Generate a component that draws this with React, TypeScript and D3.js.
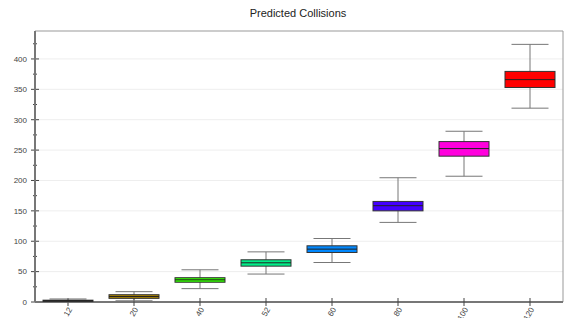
import React, { useRef, useEffect } from "react";
import * as d3 from "d3";

const categories = ["12", "20", "40", "52", "60", "80", "100", "120"];
const mins = [0, 2, 22, 46, 65, 131, 207, 319];
const q1s = [1, 6, 32.5, 59, 81.5, 150, 240, 353];
const medians = [2, 9, 36.5, 64.5, 87, 158.5, 252.5, 366];
const q3s = [3, 12, 40, 69.5, 92.5, 165.5, 264, 379.5];
const maxs = [5, 17, 53, 82.5, 104.5, 204.5, 281, 424];
const colors = ["#111111", "#b08800", "#33ff00", "#00ee88", "#0088ff", "#4400ff", "#ff00dd", "#ff0000"];
const yTicks = [0, 50, 100, 150, 200, 250, 300, 350, 400];

const W = 567;
const H = 318;
const margin = { top: 31, right: 4, bottom: 16, left: 35 };

export default function App() {
  const svgRef = useRef<SVGSVGElement>(null);

  useEffect(() => {
    const svg = d3.select(svgRef.current);
    svg.selectAll("*").remove();
    const x0 = margin.left;
    const x1 = W - margin.right;
    const y0 = H - margin.bottom;
    const y1 = margin.top;

    const x = d3.scaleBand().domain(categories).range([x0, x1]);
    const y = d3.scaleLinear().domain([0, 446]).range([y0, y1]);

    // grid
    svg
      .append("g")
      .selectAll("line")
      .data(yTicks.slice(1))
      .join("line")
      .attr("x1", x0)
      .attr("x2", x1)
      .attr("y1", (d) => y(d))
      .attr("y2", (d) => y(d))
      .attr("stroke", "#eeeeee");

    // frame
    svg
      .append("path")
      .attr("d", `M${x0},${y1}H${x1}V${y0}`)
      .attr("fill", "none")
      .attr("stroke", "#999999");

    // y axis
    const yAxis = svg.append("g").attr("transform", `translate(${x0},0)`);
    yAxis
      .selectAll("line.minor")
      .data(d3.range(25, 446, 50))
      .join("line")
      .attr("class", "minor")
      .attr("x1", -2)
      .attr("x2", 2)
      .attr("y1", (d) => y(d))
      .attr("y2", (d) => y(d))
      .attr("stroke", "#444");
    yAxis
      .selectAll("line.major")
      .data(yTicks)
      .join("line")
      .attr("class", "major")
      .attr("x1", -4)
      .attr("x2", 4)
      .attr("y1", (d) => y(d))
      .attr("y2", (d) => y(d))
      .attr("stroke", "#444");
    yAxis
      .selectAll("text")
      .data(yTicks)
      .join("text")
      .attr("x", -8)
      .attr("y", (d) => y(d))
      .attr("dy", "0.35em")
      .attr("text-anchor", "end")
      .attr("font-family", "Liberation Sans, Arial, sans-serif")
      .attr("font-size", 8)
      .attr("fill", "#444")
      .text((d) => d);
    yAxis
      .append("line")
      .attr("y1", y1)
      .attr("y2", y0)
      .attr("stroke", "#777")
      .attr("stroke-width", 2);

    // x axis
    const xAxis = svg.append("g").attr("transform", `translate(0,${y0})`);
    xAxis
      .append("line")
      .attr("x1", x0)
      .attr("x2", x1)
      .attr("stroke", "#777")
      .attr("stroke-width", 2);
    const xt = xAxis
      .selectAll("g")
      .data(categories)
      .join("g")
      .attr("transform", (d) => `translate(${x(d)! + x.bandwidth() / 2},0)`);
    xt.append("line").attr("y1", -4).attr("y2", 4).attr("stroke", "#444");
    xt.append("text")
      .attr("transform", "translate(2,6) rotate(-60)")
      .attr("text-anchor", "end")
      .attr("dy", "0.35em")
      .attr("font-family", "Liberation Sans, Arial, sans-serif")
      .attr("font-size", 8)
      .attr("fill", "#444")
      .text((d) => d);

    // boxes
    const boxW = 50;
    const capW = 37;
    const g = svg
      .append("g")
      .selectAll("g")
      .data(categories)
      .join("g")
      .attr("transform", (d) => `translate(${x(d)! + x.bandwidth() / 2},0)`);
    g.append("line")
      .attr("y1", (_, i) => y(mins[i]))
      .attr("y2", (_, i) => y(maxs[i]))
      .attr("stroke", "#777");
    g.append("line")
      .attr("x1", -capW / 2)
      .attr("x2", capW / 2)
      .attr("y1", (_, i) => y(maxs[i]))
      .attr("y2", (_, i) => y(maxs[i]))
      .attr("stroke", "#777");
    g.append("line")
      .attr("x1", -capW / 2)
      .attr("x2", capW / 2)
      .attr("y1", (_, i) => y(mins[i]))
      .attr("y2", (_, i) => y(mins[i]))
      .attr("stroke", "#777");
    g.append("rect")
      .attr("x", -boxW / 2)
      .attr("width", boxW)
      .attr("y", (_, i) => y(q3s[i]))
      .attr("height", (_, i) => y(q1s[i]) - y(q3s[i]))
      .attr("fill", (_, i) => colors[i])
      .attr("stroke", "#333");
    g.append("line")
      .attr("x1", -boxW / 2)
      .attr("x2", boxW / 2)
      .attr("y1", (_, i) => y(medians[i]))
      .attr("y2", (_, i) => y(medians[i]))
      .attr("stroke", "#222");

    svg
      .append("text")
      .attr("x", 298)
      .attr("y", 17)
      .attr("text-anchor", "middle")
      .attr("font-family", "Liberation Sans, Arial, sans-serif")
      .attr("font-size", 11)
      .attr("fill", "#222")
      .text("Predicted Collisions");
  }, []);

  return (
    <div style={{ position: "fixed", left: 0, top: 0 }}>
      <svg ref={svgRef} width={W} height={H} style={{ display: "block", background: "#fff" }}></svg>
    </div>
  );
}
